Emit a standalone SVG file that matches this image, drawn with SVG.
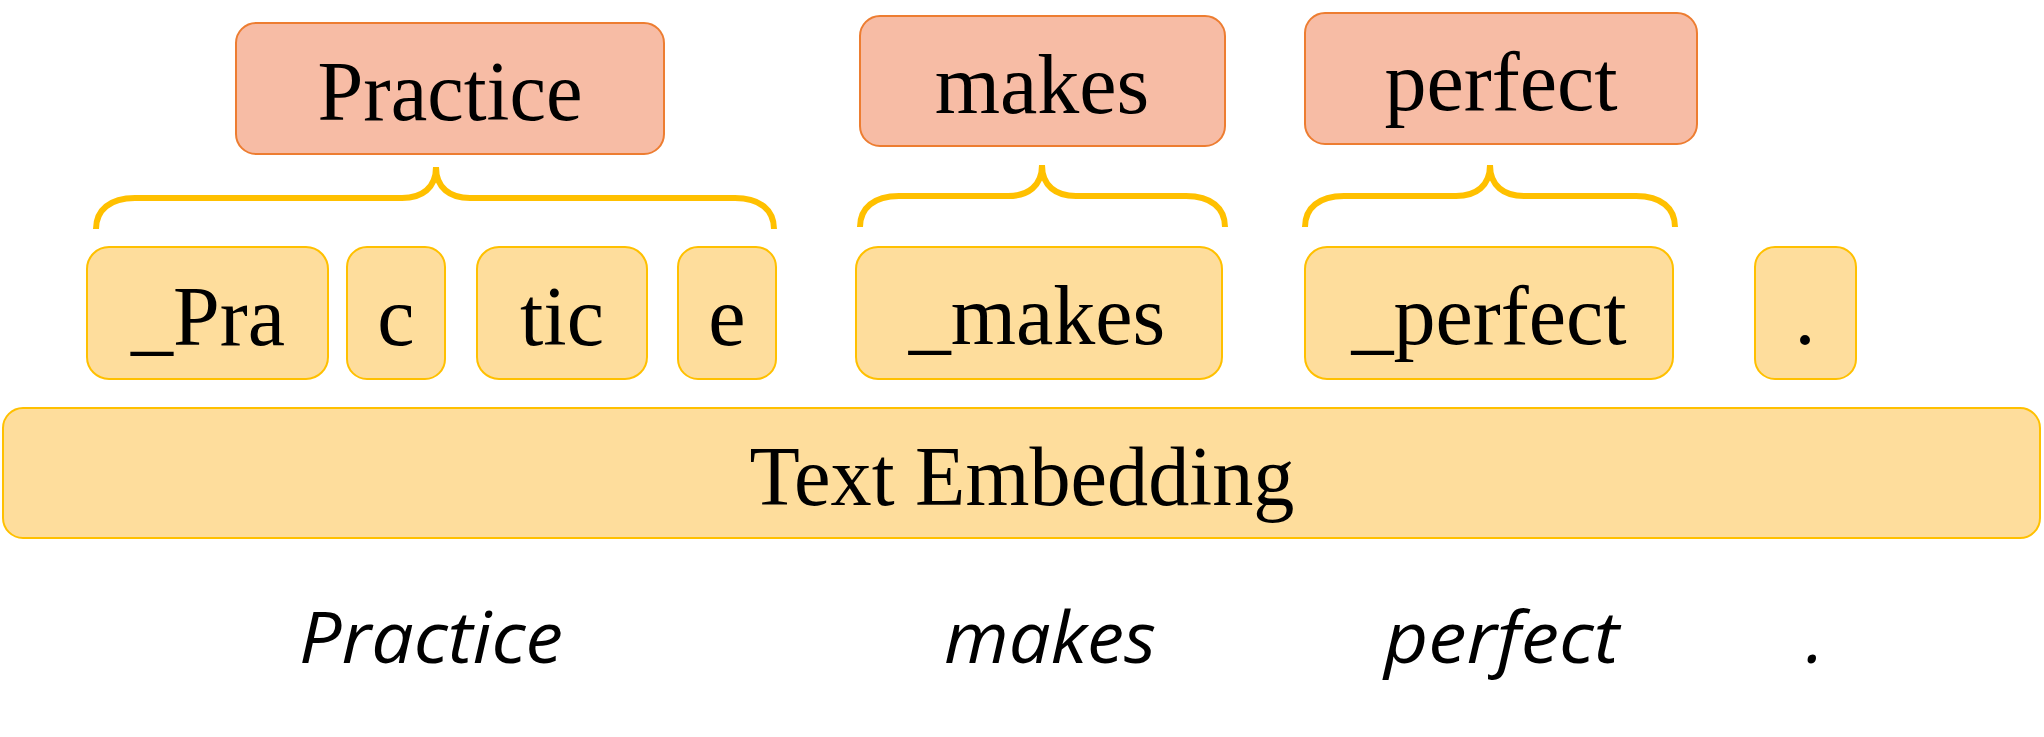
<svg xmlns="http://www.w3.org/2000/svg" width="2044" height="737" viewBox="0 0 2044 737">
<style>
.word{fill:#F7BCA5;stroke:#ED7D31;stroke-width:2}
.tok{fill:#FEDD9C;stroke:#FFC000;stroke-width:2}
.serif{font-family:"Liberation Serif","Times New Roman",serif;font-size:84px;fill:#000;text-anchor:middle}
.it{font-family:"Open Sans","Noto Sans",sans-serif;font-style:italic;font-size:72px;fill:#000}
.brace{fill:none;stroke:#FFC000;stroke-width:6}
</style>
<rect width="2044" height="737" fill="#fff"/>
<g id="word-practice"><rect class="word" x="236" y="23" width="428" height="131" rx="20"/><text class="serif" x="450" y="120" textLength="265" lengthAdjust="spacingAndGlyphs">Practice</text></g>
<g id="word-makes"><rect class="word" x="860" y="16" width="365" height="130" rx="20"/><text class="serif" x="1042" y="113">makes</text></g>
<g id="word-perfect"><rect class="word" x="1305" y="13" width="392" height="131" rx="20"/><text class="serif" x="1501" y="110">perfect</text></g>
<g id="connectors">
<path class="brace" d="M96,229 C96,210 110,198 135,198 L402,198 C422,198 436,188 436,167 C436,188 450,198 470,198 L735,198 C760,198 774,210 774,229"/>
<path class="brace" d="M860,227 C860,208 874,196 899,196 L1008,196 C1028,196 1042,186 1042,165 C1042,186 1056,196 1076,196 L1186,196 C1211,196 1225,208 1225,227"/>
<path class="brace" d="M1305,227 C1305,208 1319,196 1344,196 L1456,196 C1476,196 1490,186 1490,165 C1490,186 1504,196 1524,196 L1636,196 C1661,196 1675,208 1675,227"/>
</g>
<g id="tok-pra"><rect class="tok" x="87" y="247" width="241" height="132" rx="22"/><text class="serif" x="208" y="345">_Pra</text></g>
<g id="tok-c"><rect class="tok" x="347" y="247" width="98" height="132" rx="20"/><text class="serif" x="396" y="345">c</text></g>
<g id="tok-tic"><rect class="tok" x="477" y="247" width="170" height="132" rx="22"/><text class="serif" x="562" y="345">tic</text></g>
<g id="tok-e"><rect class="tok" x="678" y="247" width="98" height="132" rx="20"/><text class="serif" x="727" y="345">e</text></g>
<g id="tok-makes"><rect class="tok" x="856" y="247" width="366" height="132" rx="22"/><text class="serif" x="1037" y="344">_makes</text></g>
<g id="tok-perfect"><rect class="tok" x="1305" y="247" width="368" height="132" rx="22"/><text class="serif" x="1489" y="344">_perfect</text></g>
<g id="tok-dot"><rect class="tok" x="1755" y="247" width="101" height="132" rx="20"/><text class="serif" x="1805" y="344">.</text></g>
<g id="embedding"><rect class="tok" x="3" y="408" width="2037" height="130" rx="20"/><text class="serif" x="1022" y="505" textLength="545" lengthAdjust="spacingAndGlyphs">Text Embedding</text></g>
<g id="input-words">
<text class="it" x="299" y="663" textLength="264" lengthAdjust="spacingAndGlyphs">Practice</text>
<text class="it" x="944" y="663" textLength="212" lengthAdjust="spacingAndGlyphs">makes</text>
<text class="it" x="1384" y="663" textLength="235" lengthAdjust="spacingAndGlyphs">perfect</text>
<text class="it" x="1806" y="663">.</text>
</g>
</svg>
